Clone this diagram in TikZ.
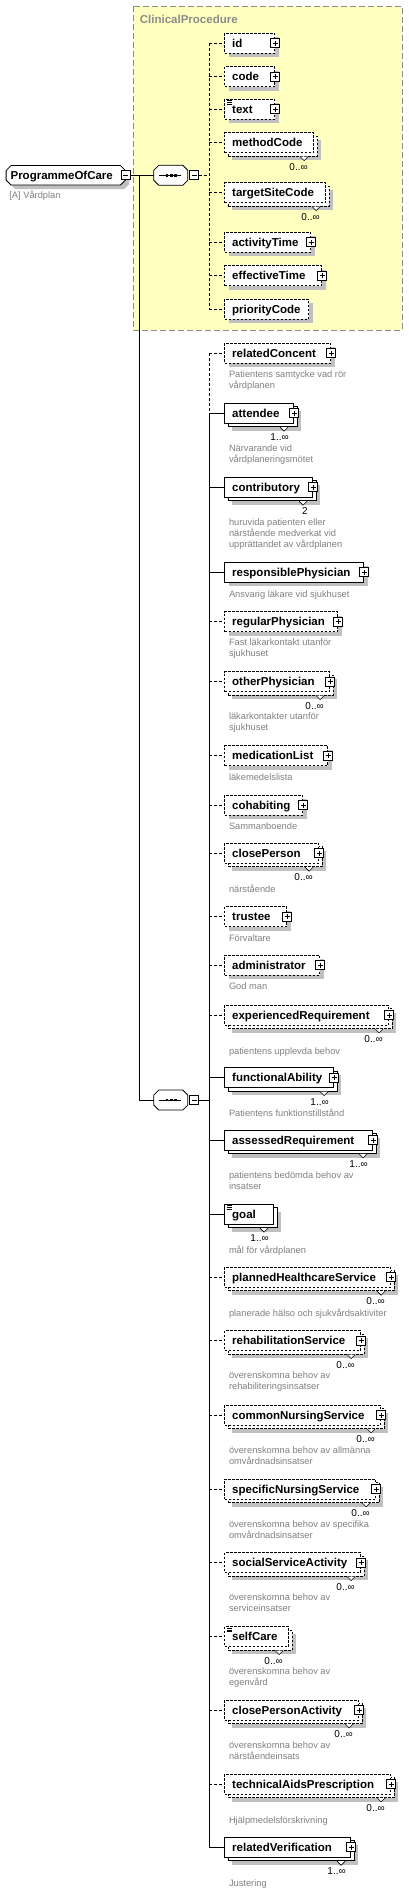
\documentclass[tikz,border=0pt]{standalone}
\usepackage{fontspec}
\setmainfont{Liberation Sans}
\usetikzlibrary{shapes.misc,shadows,calc,positioning}
\hyphenpenalty=10000
\exhyphenpenalty=10000

\definecolor{groupfill}{RGB}{255,255,192}
\definecolor{groupline}{RGB}{140,140,140}
\definecolor{shadecol}{RGB}{192,192,192}
\definecolor{doccol}{RGB}{128,128,128}

\begin{document}
\begin{tikzpicture}[x=1pt,y=-1pt,line width=.8pt,
  elemfont/.style={font=\bfseries\fontsize{11.5}{13}\selectfont},
  elem/.style={elemfont,draw,fill=white,anchor=west,align=left,inner xsep=7.5pt,inner ysep=0pt,
    minimum height=20pt,text height=10.5pt,text depth=2.3pt},
  opt/.style={dash pattern=on 2.5pt off 1.5pt},
  one/.style={drop shadow={shadow xshift=4pt,shadow yshift=-4pt,fill=shadecol,opacity=1}},
  many/.style={drop shadow={shadow xshift=7.5pt,shadow yshift=-7.5pt,fill=shadecol,opacity=1},
    copy shadow={shadow xshift=3.5pt,shadow yshift=-3.5pt}},
  plusbox/.style={draw,solid,fill=white,minimum size=9pt,inner sep=0pt,
    path picture={\draw ([xshift=2pt]path picture bounding box.west) -- ([xshift=-2pt]path picture bounding box.east)
      ([yshift=-2pt]path picture bounding box.north) -- ([yshift=2pt]path picture bounding box.south);}},
  minusbox/.style={draw,solid,fill=white,minimum size=9pt,inner sep=0pt,
    path picture={\draw ([xshift=2pt]path picture bounding box.west) -- ([xshift=-2pt]path picture bounding box.east);}},
  seqbox/.style={minimum width=34pt,minimum height=20pt,inner sep=0pt},
  occ/.style={anchor=east,inner sep=0pt,font=\fontsize{10}{12}\selectfont},
  doc/.style={anchor=north west,inner sep=0pt,align=left,text=doccol,
    font=\fontsize{9.3}{11}\selectfont,execute at begin node=\strut},
  optline/.style={dash pattern=on 3pt off 2pt},
  notch/.style={fill=white,solid,line width=.6pt},
  icon/.style={line width=.6pt,solid}]
\useasboundingbox (0,0) rectangle (408,1893);

% ClinicalProcedure group
\draw[groupline,fill=groupfill,line width=1pt,dash pattern=on 6pt off 3pt] (133,6) rectangle (402,330);
\node[anchor=west,inner sep=0pt,text=groupline,elemfont] (grp) at (139.5,19) {ClinicalProcedure};

% root and sequences
\node[elem,one,chamfered rectangle,chamfered rectangle sep=2.5pt,text width=110.3pt,inner xsep=2pt,minimum height=19.5pt] (poc) at (5.7,175.3) {ProgrammeOfCare};
\node[minusbox] (poc-m) at (poc.east) {};
\node[doc,anchor=west,execute at begin node={}] (poc-d) at (9,196) {[A] Vårdplan};

\node[seqbox] (seq1) at (171.2,175.3) {};
\node[minusbox,right=0.7pt of seq1] (seq1-m) {};
\node[seqbox] (seq2) at (171.2,1100) {};
\node[minusbox,right=0.7pt of seq2] (seq2-m) {};
\foreach \s in {seq1,seq2}{
  \fill[shadecol,shift={(4,4)}] (\s.west) ++(0,-5) -- ++(5,-5) -- ++(24,0) -- ++(5,5) -- ++(0,10)
    -- ++(-5,5) -- ++(-24,0) -- ++(-5,-5) -- cycle;
  \draw[fill=white] (\s.west) ++(0,-5) -- ++(5,-5) -- ++(24,0) -- ++(5,5) -- ++(0,10)
    -- ++(-5,5) -- ++(-24,0) -- ++(-5,-5) -- cycle;
  \draw (\s.center) ++(-12,0) -- ++(22,0);
  \foreach \dx in {-5.5,-1.3,2.9}
    \fill[black] ($(\s.center)+(\dx,-1.3)$) rectangle +(2.6,2.6);
}

% first sequence
\node[elem,opt,one,text width=35pt] (id) at (224.3,43.3) {id};
\node[elem,opt,one,text width=35pt] (code) at (224.3,76.7) {code};
\node[elem,opt,one,text width=35pt] (txt) at (224.3,109.3) {text};
\node[elem,opt,many,text width=74pt] (methodCode) at (224.3,142.7) {methodCode};
\node[elem,opt,many,text width=86pt] (targetSiteCode) at (224.3,192.7) {targetSiteCode};
\node[elem,opt,one,text width=71pt] (activityTime) at (224.3,242.3) {activityTime};
\node[elem,opt,one,text width=82pt] (effectiveTime) at (224.3,275.7) {effectiveTime};
\node[elem,opt,one,text width=69pt] (priorityCode) at (224.3,309) {priorityCode};

% second sequence
\node[elem,opt,one,text width=91pt] (relatedConcent) at (224.3,353.3) {relatedConcent};
\node[doc] (relatedConcent-d) at ($(relatedConcent.south west)+(4.3,6.3)$) {Patientens samtycke vad rör\\vårdplanen};

\node[elem,many,text width=54pt] (attendee) at (224.3,413.3) {attendee};
\node[doc] (attendee-d) at ($(attendee.south west)+(4.3,20.5)$) {Närvarande vid\\vårdplaneringsmötet};

\node[elem,many,text width=73pt] (contributory) at (224.3,487.3) {contributory};
\node[doc] (contributory-d) at ($(contributory.south west)+(4.3,20.5)$) {huruvida patienten eller\\närstående medverkat vid\\upprättandet av vårdplanen};

\node[elem,one,text width=124pt] (responsiblePhysician) at (224.3,572.3) {responsiblePhysician};
\node[doc] (responsiblePhysician-d) at ($(responsiblePhysician.south west)+(4.3,6.3)$) {Ansvarig läkare vid sjukhuset};

\node[elem,opt,one,text width=98pt] (regularPhysician) at (224.3,621.7) {regularPhysician};
\node[doc] (regularPhysician-d) at ($(regularPhysician.south west)+(4.3,6.3)$) {Fast läkarkontakt utanför\\sjukhuset};

\node[elem,opt,many,text width=90pt] (otherPhysician) at (224.3,681.7) {otherPhysician};
\node[doc] (otherPhysician-d) at ($(otherPhysician.south west)+(4.3,20.5)$) {läkarkontakter utanför\\sjukhuset};

\node[elem,opt,one,text width=88pt] (medicationList) at (224.3,755.7) {medicationList};
\node[doc] (medicationList-d) at ($(medicationList.south west)+(4.3,6.3)$) {läkemedelslista};

\node[elem,opt,one,text width=63pt] (cohabiting) at (224.3,805) {cohabiting};
\node[doc] (cohabiting-d) at ($(cohabiting.south west)+(4.3,6.3)$) {Sammanboende};

\node[elem,opt,many,text width=79pt] (closePerson) at (224.3,853.3) {closePerson};
\node[doc] (closePerson-d) at ($(closePerson.south west)+(4.3,20.5)$) {närstående};

\node[elem,opt,one,text width=47pt] (trustee) at (224.3,916.7) {trustee};
\node[doc] (trustee-d) at ($(trustee.south west)+(4.3,6.3)$) {Förvaltare};

\node[elem,opt,one,text width=80pt] (administrator) at (224.3,965) {administrator};
\node[doc] (administrator-d) at ($(administrator.south west)+(4.3,6.3)$) {God man};

\node[elem,opt,many,text width=149pt] (experiencedRequirement) at (224.3,1015) {experiencedRequirement};
\node[doc] (experiencedRequirement-d) at ($(experiencedRequirement.south west)+(4.3,20.5)$) {patientens upplevda behov};

\node[elem,many,text width=94pt] (functionalAbility) at (224.3,1077.7) {functionalAbility};
\node[doc] (functionalAbility-d) at ($(functionalAbility.south west)+(4.3,20.5)$) {Patientens funktionstillstånd};

\node[elem,many,text width=133pt] (assessedRequirement) at (224.3,1140) {assessedRequirement};
\node[doc] (assessedRequirement-d) at ($(assessedRequirement.south west)+(4.3,20.5)$) {patientens bedömda behov av\\insatser};

\node[elem,many,text width=34pt] (goal) at (224.3,1214.3) {goal};
\node[doc] (goal-d) at ($(goal.south west)+(4.3,20.5)$) {mål för vårdplanen};

\node[elem,opt,many,text width=151pt] (plannedHealthcareService) at (224.3,1277.3) {plannedHealthcareService};
\node[doc] (plannedHealthcareService-d) at ($(plannedHealthcareService.south west)+(4.3,20.5)$) {planerade hälso och sjukvårdsaktiviter};

\node[elem,opt,many,text width=121pt] (rehabilitationService) at (224.3,1340.7) {rehabilitationService};
\node[doc] (rehabilitationService-d) at ($(rehabilitationService.south west)+(4.3,20.5)$) {överenskomna behov av\\rehabiliteringsinsatser};

\node[elem,opt,many,text width=141pt] (commonNursingService) at (224.3,1415) {commonNursingService};
\node[doc] (commonNursingService-d) at ($(commonNursingService.south west)+(4.3,20.5)$) {överenskomna behov av allmänna\\omvårdnadsinsatser};

\node[elem,opt,many,text width=136pt] (specificNursingService) at (224.3,1489) {specificNursingService};
\node[doc] (specificNursingService-d) at ($(specificNursingService.south west)+(4.3,20.5)$) {överenskomna behov av specifika\\omvårdnadsinsatser};

\node[elem,opt,many,text width=121pt] (socialServiceActivity) at (224.3,1562.7) {socialServiceActivity};
\node[doc] (socialServiceActivity-d) at ($(socialServiceActivity.south west)+(4.3,20.5)$) {överenskomna behov av\\serviceinsatser};

\node[elem,opt,many,text width=49pt] (selfCare) at (224.3,1636.7) {selfCare};
\node[doc] (selfCare-d) at ($(selfCare.south west)+(4.3,20.5)$) {överenskomna behov av\\egenvård};

\node[elem,opt,many,text width=119pt] (closePersonActivity) at (224.3,1710) {closePersonActivity};
\node[doc] (closePersonActivity-d) at ($(closePersonActivity.south west)+(4.3,20.5)$) {överenskomna behov av\\närståendeinsats};

\node[elem,opt,many,text width=151pt] (technicalAidsPrescription) at (224.3,1784) {technicalAidsPrescription};
\node[doc] (technicalAidsPrescription-d) at ($(technicalAidsPrescription.south west)+(4.3,21)$) {Hjälpmedelsförskrivning};

\node[elem,many,text width=111pt] (relatedVerification) at (224.3,1847.3) {relatedVerification};
\node[doc] (relatedVerification-d) at ($(relatedVerification.south west)+(4.3,20.5)$) {Justering};

% expand boxes
\foreach \n in {id,code,txt,activityTime,effectiveTime,relatedConcent,attendee,contributory,
  responsiblePhysician,regularPhysician,otherPhysician,medicationList,cohabiting,closePerson,
  trustee,administrator,experiencedRequirement,functionalAbility,assessedRequirement,
  plannedHealthcareService,rehabilitationService,commonNursingService,specificNursingService,
  socialServiceActivity,closePersonActivity,technicalAidsPrescription,relatedVerification}
  \node[plusbox] (\n-p) at (\n.east) {};

% text content marks
\foreach \n in {txt,goal,selfCare}
  \draw[icon] ($(\n.north west)+(2.5,1.8)$) -- +(5,0)
              ($(\n.north west)+(2.5,3.6)$) -- +(5,0)
              ($(\n.north west)+(2.5,5.4)$) -- +(5,0);

% occurrences
\foreach \n in {methodCode,targetSiteCode,otherPhysician,closePerson,experiencedRequirement,
  plannedHealthcareService,rehabilitationService,commonNursingService,specificNursingService,
  socialServiceActivity,selfCare,closePersonActivity,technicalAidsPrescription}{
  \draw[notch] ($(\n.south east)+(-14,3.5)$) -- ++(4,4) -- ++(4,-4);
  \node[occ] (\n-o) at ($(\n.south east)+(-6,13.8)$) {0..∞};
}
\foreach \n in {attendee,functionalAbility,assessedRequirement,goal,relatedVerification}{
  \draw[notch] ($(\n.south east)+(-14,3.5)$) -- ++(4,4) -- ++(4,-4);
  \node[occ] (\n-o) at ($(\n.south east)+(-5,13.8)$) {1..∞};
}
\draw[notch] ($(contributory.south east)+(-14,3.5)$) -- ++(4,4) -- ++(4,-4);
\node[occ] (contributory-o) at ($(contributory.south east)+(-5,13.8)$) {2};

% connectors
\coordinate (split) at (139,175.3);
\coordinate (bus1) at (209.3,175.3);
\coordinate (bus2) at (209.3,1100);
\draw (poc-m.east) -- (seq1.west);
\draw (split) |- (seq2.west);

\draw[optline] (seq1-m.east) -- (bus1);
\draw[optline] (id.west -| bus1) -- (priorityCode.west -| bus1);
\foreach \n in {id,code,txt,methodCode,targetSiteCode,activityTime,effectiveTime,priorityCode}
  \draw[optline] (\n.west -| bus1) -- (\n.west);

\draw (seq2-m.east) -- (bus2);
\draw[optline] (relatedConcent.west -| bus2) -- (attendee.west -| bus2);
\draw (attendee.west -| bus2) -- (relatedVerification.west -| bus2);
\foreach \n in {relatedConcent,regularPhysician,otherPhysician,medicationList,cohabiting,
  closePerson,trustee,administrator,experiencedRequirement,plannedHealthcareService,
  rehabilitationService,commonNursingService,specificNursingService,socialServiceActivity,
  selfCare,closePersonActivity,technicalAidsPrescription}
  \draw[optline] (\n.west -| bus2) -- (\n.west);
\foreach \n in {attendee,contributory,responsiblePhysician,functionalAbility,
  assessedRequirement,goal,relatedVerification}
  \draw (\n.west -| bus2) -- (\n.west);
\end{tikzpicture}
\end{document}
